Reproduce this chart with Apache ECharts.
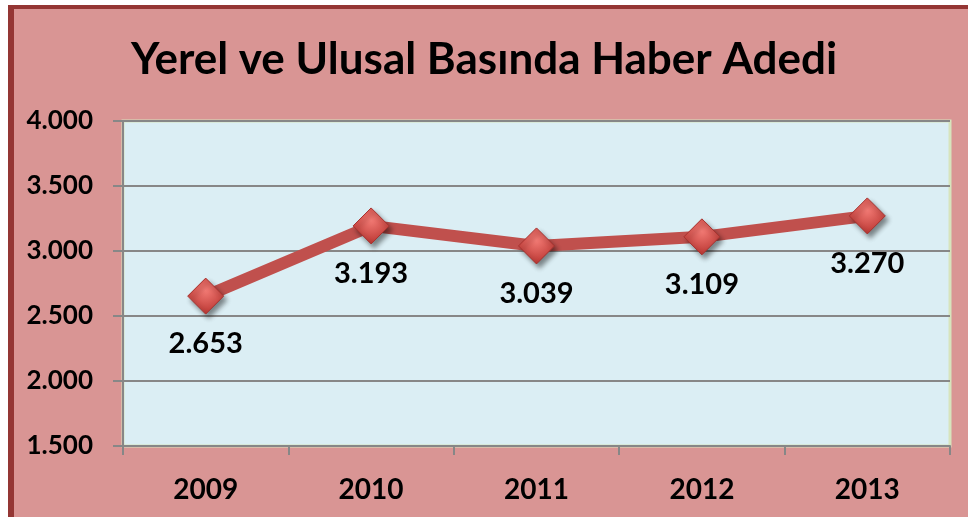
<!DOCTYPE html>
<html>
<head>
<meta charset="utf-8">
<script src="https://cdn.jsdelivr.net/npm/echarts@6/dist/echarts.min.js"></script>
<style>
  html, body { margin: 0; padding: 0; background: #fff; }
  #frame {
    position: absolute; left: 8px; top: 5px; width: 970px; height: 530px;
    background: #d99594; border-left: 6px solid #943634; border-top: 4px solid #943634;
    box-sizing: border-box;
  }
  #chart { position: absolute; left: 0; top: 0; width: 968px; height: 517px; }
</style>
</head>
<body>
<div id="frame"></div>
<div id="chart"></div>
<script>
// Data
const titleText = 'Yerel ve Ulusal Basında Haber Adedi';
const years = ['2009', '2010', '2011', '2012', '2013'];
const haberAdedi = [2653, 3193, 3039, 3109, 3270];
const yMin = 1500;
const yMax = 4000;
const yStep = 500;

// 2653 -> "2.653"
const fmt = v => String(v).replace(/\B(?=(\d{3})+(?!\d))/g, '.');

const fontFamily = 'Lato, "Open Sans", sans-serif';
const chart = echarts.init(document.getElementById('chart'));

chart.setOption({
  backgroundColor: 'transparent',
  animation: false,
  textStyle: { fontFamily },
  title: {
    text: titleText,
    left: 'center',
    top: 33,
    textStyle: { fontFamily, fontSize: 44, fontWeight: 'bold', color: '#000' },
  },
  grid: {
    left: 123, top: 121, right: 18, bottom: 71,
    show: true,
    backgroundColor: '#dbeef4',
    borderColor: '#d7e4bd',
    borderWidth: 3,
  },
  xAxis: {
    type: 'category',
    data: years,
    boundaryGap: true,
    axisLine: { lineStyle: { color: '#878787', width: 2 } },
    axisTick: { show: true, length: 9, lineStyle: { color: '#878787', width: 2 } },
    axisLabel: { fontSize: 28, fontWeight: 'bold', color: '#000', margin: 30 },
  },
  yAxis: {
    type: 'value',
    min: yMin,
    max: yMax,
    interval: yStep,
    axisLine: { show: true, lineStyle: { color: '#878787', width: 2 } },
    axisTick: { show: true, length: 10, lineStyle: { color: '#878787', width: 2 } },
    splitLine: { lineStyle: { color: '#878787', width: 2 } },
    axisLabel: { fontSize: 26, fontWeight: 'bold', color: '#000', margin: 30, formatter: fmt },
  },
  series: [{
    type: 'line',
    data: haberAdedi,
    lineStyle: { color: '#c0504d', width: 12 },
    symbol: 'diamond',
    symbolSize: 36,
    itemStyle: {
      color: new echarts.graphic.RadialGradient(0.5, 0.35, 0.7, [
        { offset: 0, color: '#f27a74' },
        { offset: 1, color: '#b5302c' },
      ]),
      borderColor: '#a8322f',
      borderWidth: 1,
      shadowColor: 'rgba(0,0,0,0.45)',
      shadowBlur: 5,
      shadowOffsetX: 3,
      shadowOffsetY: 4,
    },
    label: {
      show: true,
      position: 'bottom',
      distance: 15,
      fontSize: 29,
      fontWeight: 'bold',
      color: '#000',
      formatter: p => fmt(p.value),
    },
  }],
});
</script>
</body>
</html>
